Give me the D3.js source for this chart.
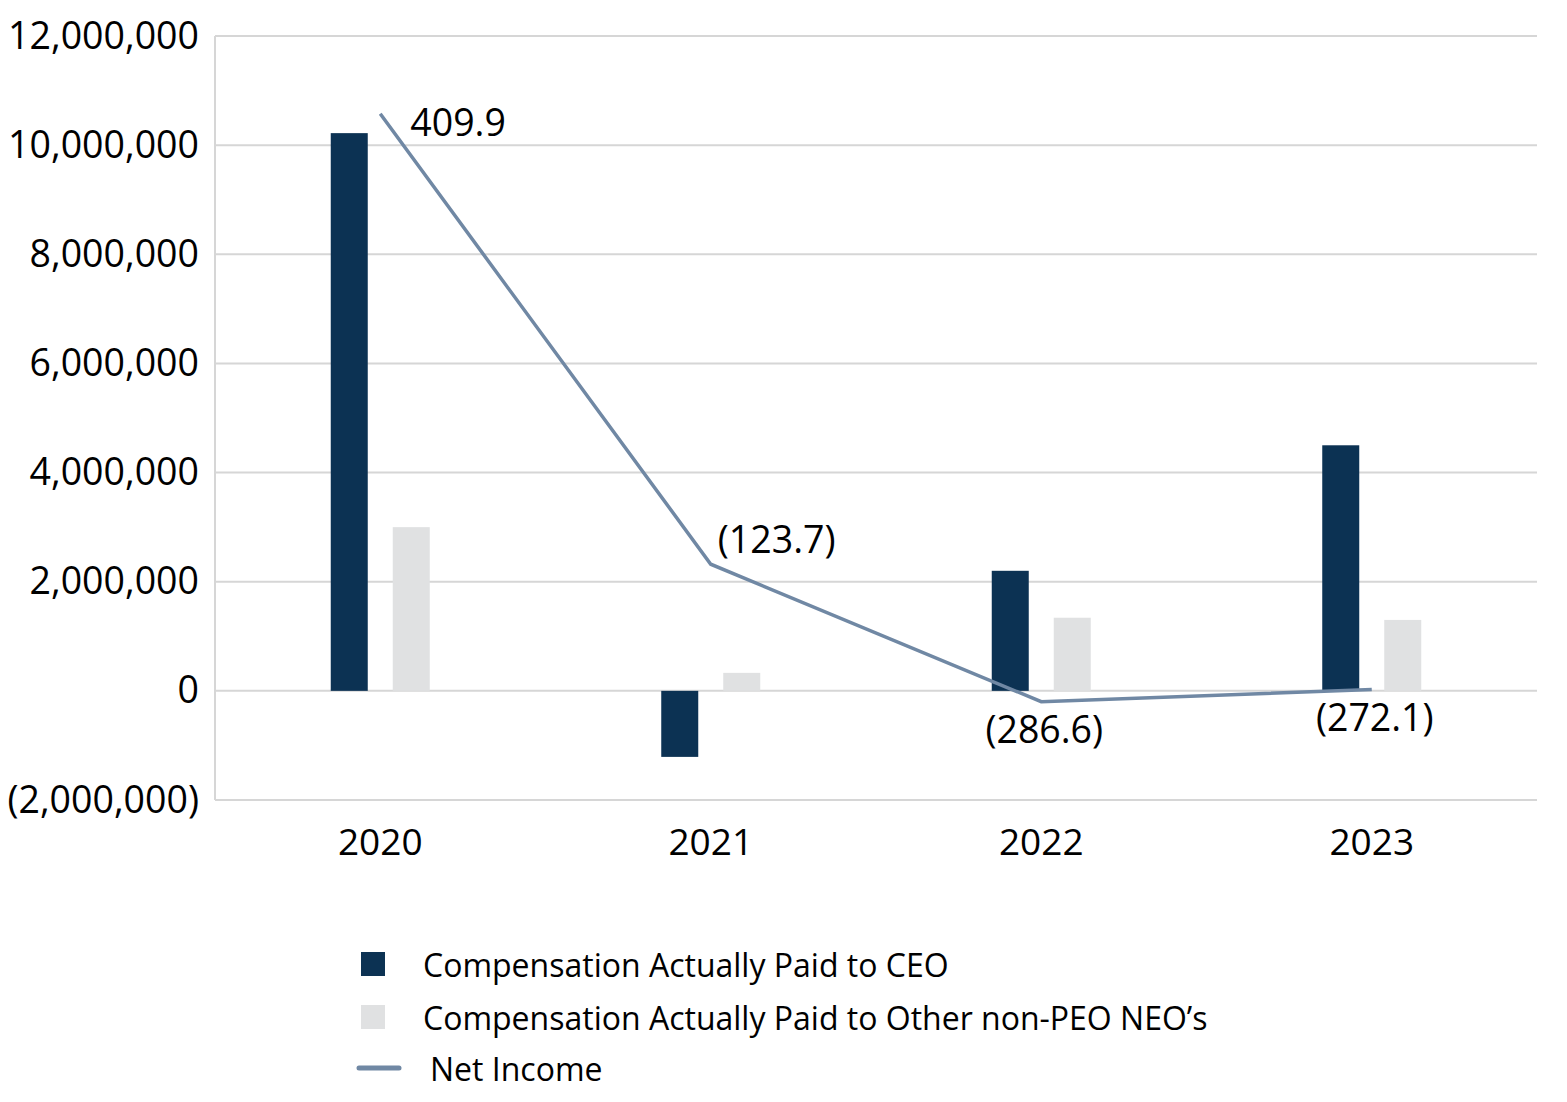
<!DOCTYPE html>
<html>
<head>
<meta charset="utf-8">
<script src="https://cdn.jsdelivr.net/npm/d3@7"></script>
<style>
  body { margin: 0; background: #fff; }
  svg text { font-family: "Open Sans", sans-serif; fill: #000; }
</style>
</head>
<body>
<svg></svg>
<script>
const years = ['2020', '2021', '2022', '2023'];
const ceoPay = [10220000, -1210000, 2200000, 4500000];
const otherPay = [3000000, 330000, 1340000, 1300000];
const netIncome = [409.9, -123.7, -286.6, -272.1];
const netIncomeLabels = ['409.9', '(123.7)', '(286.6)', '(272.1)'];
const yTicks = [-2000000, 0, 2000000, 4000000, 6000000, 8000000, 10000000, 12000000];
const legendItems = ['Compensation Actually Paid to CEO', 'Compensation Actually Paid to Other non-PEO NEO\u2019s', 'Net Income'];

const width = 1567;
const height = 1102;
const margin = { top: 36, right: 30, bottom: 302, left: 215 };

const navy = '#0c3253';
const grey = '#e0e1e2';
const lineColor = '#7088a4';
const gridColor = '#d6d6d6';

const svg = d3.select('svg')
    .attr('width', width)
    .attr('height', height);

const x = d3.scaleBand()
    .domain(years)
    .range([margin.left, width - margin.right]);

const y = d3.scaleLinear()
    .domain([-2000000, 12000000])
    .range([height - margin.bottom, margin.top]);

// hidden secondary scale for the net income line
const y2 = d3.scaleLinear()
    .domain([-403, 502])
    .range([height - margin.bottom, margin.top]);

const fmt = v => {
    const s = d3.format(',')(Math.abs(v));
    return v < 0 ? '(' + s + ')' : s;
};

// gridlines
svg.append('g')
    .selectAll('line')
    .data(yTicks)
    .enter()
    .append('line')
    .attr('x1', margin.left)
    .attr('x2', width - margin.right)
    .attr('y1', d => y(d))
    .attr('y2', d => y(d))
    .attr('stroke', gridColor)
    .attr('stroke-width', 2);

svg.append('line')
    .attr('x1', margin.left)
    .attr('x2', margin.left)
    .attr('y1', y(12000000))
    .attr('y2', y(-2000000))
    .attr('stroke', gridColor)
    .attr('stroke-width', 2);

// y axis labels
const yAxis = d3.axisLeft(y)
    .tickValues(yTicks)
    .tickFormat(fmt)
    .tickSize(0)
    .tickPadding(16);

svg.append('g')
    .attr('transform', 'translate(' + margin.left + ',0)')
    .call(yAxis)
    .call(g => g.select('.domain').remove())
    .selectAll('text')
    .style('font-size', '37.5px')
    .style('font-family', '"Open Sans", sans-serif')
    .attr('fill', '#000');

// x axis labels
const xAxis = d3.axisBottom(x)
    .tickSize(0)
    .tickPadding(29);

svg.append('g')
    .attr('transform', 'translate(0,' + y(-2000000) + ')')
    .call(xAxis)
    .call(g => g.select('.domain').remove())
    .selectAll('text')
    .style('font-size', '37px')
    .style('font-family', '"Open Sans", sans-serif')
    .attr('fill', '#000');

// bars
const barW = 37;
const offset = 31;

const drawBars = (values, dx, color) => {
    svg.append('g')
        .selectAll('rect')
        .data(values)
        .enter()
        .append('rect')
        .attr('x', (d, i) => x(years[i]) + x.bandwidth() / 2 + dx - barW / 2)
        .attr('y', d => y(Math.max(d, 0)))
        .attr('width', barW)
        .attr('height', d => Math.abs(y(d) - y(0)))
        .attr('fill', color);
};

drawBars(ceoPay, -offset, navy);
drawBars(otherPay, offset, grey);

// net income line
const line = d3.line()
    .x((d, i) => x(years[i]) + x.bandwidth() / 2)
    .y(d => y2(d));

svg.append('path')
    .datum(netIncome)
    .attr('d', line)
    .attr('fill', 'none')
    .attr('stroke', lineColor)
    .attr('stroke-width', 3.5);

// line labels
const placement = ['right', 'above', 'below', 'below'];
svg.append('g')
    .selectAll('text')
    .data(netIncome)
    .enter()
    .append('text')
    .attr('x', (d, i) => {
        const cx = x(years[i]) + x.bandwidth() / 2;
        if (placement[i] === 'right') return cx + 30;
        if (placement[i] === 'above') return cx + 7;
        return cx + 3;
    })
    .attr('y', (d, i) => {
        const cy = y2(d);
        if (placement[i] === 'right') return cy + 8;
        if (placement[i] === 'above') return cy - 26;
        return cy + 27;
    })
    .attr('text-anchor', (d, i) => placement[i] === 'below' ? 'middle' : 'start')
    .attr('dominant-baseline', 'central')
    .style('font-size', '37.5px')
    .text((d, i) => netIncomeLabels[i]);

// legend
const legend = svg.append('g');
const legendY = [964, 1017, 1068];

legend.append('rect')
    .attr('x', 361).attr('y', legendY[0] - 12)
    .attr('width', 24).attr('height', 24)
    .attr('fill', navy);

legend.append('rect')
    .attr('x', 361).attr('y', legendY[1] - 12)
    .attr('width', 24).attr('height', 24)
    .attr('fill', grey);

legend.append('line')
    .attr('x1', 359).attr('x2', 399)
    .attr('y1', legendY[2]).attr('y2', legendY[2])
    .attr('stroke', lineColor)
    .attr('stroke-width', 5)
    .attr('stroke-linecap', 'round');

legend.selectAll('text')
    .data(legendItems)
    .enter()
    .append('text')
    .attr('x', (d, i) => i === 2 ? 430 : 423)
    .attr('y', (d, i) => legendY[i])
    .attr('dominant-baseline', 'central')
    .style('font-size', '32px')
    .text(d => d);
</script>
</body>
</html>
